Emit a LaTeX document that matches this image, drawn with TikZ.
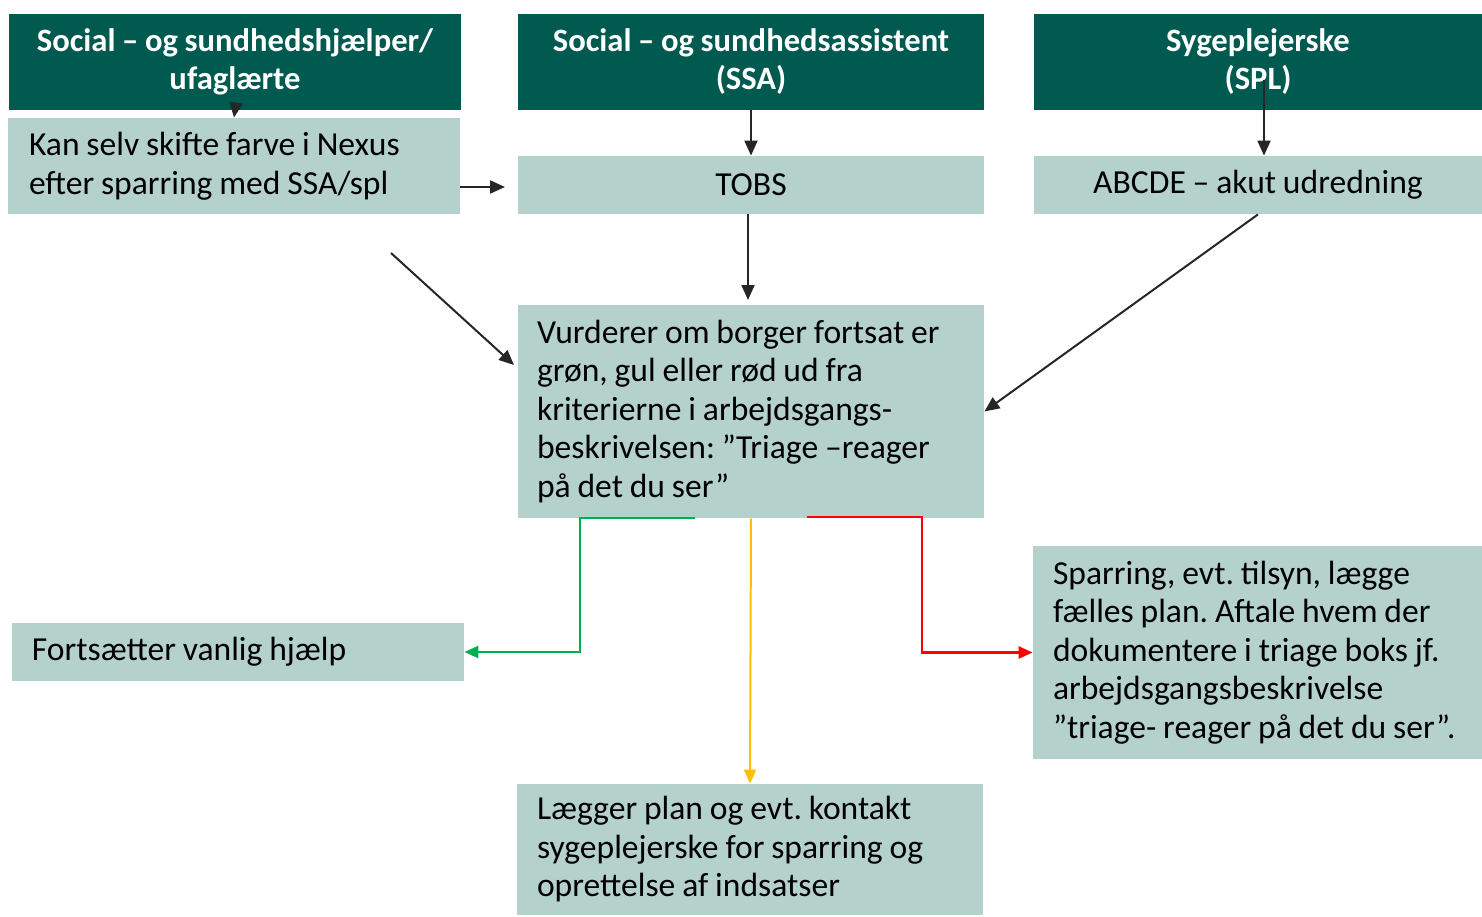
\documentclass[tikz,border=0pt]{standalone}
\usepackage{fontspec}
\setmainfont{Carlito}[WordSpace=0.9]
\frenchspacing
\usetikzlibrary{arrows.meta}
\definecolor{dk}{HTML}{005A4F}
\definecolor{lt}{HTML}{B5D1CB}
\definecolor{ar}{HTML}{262626}
\definecolor{gr}{HTML}{00B050}
\definecolor{yl}{HTML}{FFC000}
\definecolor{rd}{HTML}{FF0000}
\begin{document}
\begin{tikzpicture}[x=0.5pt,y=-0.5pt,
  hdr/.style={fill=dk,inner sep=0pt,text=white,font=\fontsize{16.3}{19}\selectfont\bfseries,align=center},
  lbox/.style={fill=lt,inner sep=0pt,font=\fontsize{16.8}{19.25}\selectfont\frenchspacing,align=flush left},
  cbox/.style={fill=lt,inner sep=0pt,font=\fontsize{16.8}{19.25}\selectfont,align=center},
  conn/.style={draw=ar,line width=1pt,-{Triangle[length=7.5pt,width=6.5pt]}},
  gconn/.style={draw=gr,line width=1.1pt,-{Triangle[length=7pt,width=6pt]}},
  yconn/.style={draw=yl,line width=1pt,-{Triangle[length=7pt,width=6pt]}},
  rconn/.style={draw=rd,line width=1.2pt,-{Triangle[length=7pt,width=6pt]}},
]
\useasboundingbox (0,0) rectangle (1482,916);
% headers
\node[hdr,minimum width=226pt,minimum height=48pt] (h1) at (235,62) {Social – og sundhedshjælper/\\ufaglærte};
\node[hdr,minimum width=233pt,minimum height=48pt] (h2) at (751,62) {Social – og sundhedsassistent\\(SSA)};
\node[hdr,minimum width=224pt,minimum height=48pt] (h3) at (1258,62) {Sygeplejerske\\(SPL)};
% second row
\node[lbox,minimum width=226pt,minimum height=48pt,text width=205pt] (b1) at (234,166) {Kan selv skifte farve i Nexus\\efter sparring med SSA/spl};
\node[cbox,minimum width=233pt,minimum height=29pt] (tobs) at (751,185) {TOBS};
\node[cbox,minimum width=224pt,minimum height=29pt] (abcde) at (1258,185) {ABCDE – akut udredning};
% middle
\node[lbox,minimum width=233pt,minimum height=106.5pt,text width=214pt] (v) at (751,411.5) {Vurderer om borger fortsat er\\grøn, gul eller rød ud fra\\kriterierne i arbejdsgangs-\\beskrivelsen: ”Triage –reager\\på det du ser”};
\node[lbox,minimum width=226pt,minimum height=29pt,text width=206pt] (fort) at (238,652) {Fortsætter vanlig hjælp};
\node[lbox,minimum width=224.5pt,minimum height=106.5pt,text width=204.5pt] (spar) at (1257.5,652.5) {Sparring, evt. tilsyn, lægge\\fælles plan. Aftale hvem der\\dokumentere i triage boks jf.\\arbejdsgangsbeskrivelse\\\mbox{”triage- reager på det du ser”.}};
\node[lbox,minimum width=233pt,minimum height=65.5pt,text width=213pt] (laeg) at (750,849.5) {Lægger plan og evt. kontakt\\sygeplejerske for sparring og\\oprettelse af indsatser};
% free ends
\coordinate (t1) at (505,187);
\coordinate (vtop) at (748,300);
\coordinate (s3) at (1264,80);
\coordinate (d1) at (391,253);
\coordinate (d2) at (514,365);
\coordinate (g1) at (695,518);
\coordinate (g2) at (580,518);
\coordinate (r1) at (807,517);
\coordinate (r2) at (922,517);
% connectors
\draw[conn] (h1.south) -- (b1.north);
\draw[conn] (b1.east |- t1) -- (t1);
\draw[conn] (h2.south) -- (tobs.north);
\draw[conn] (tobs.south -| vtop) -- (vtop);
\draw[conn] (s3) -- (s3 |- abcde.north);
\draw[conn] (abcde.south) -- (v.east);
\draw[conn] (d1) -- (d2);
\draw[gconn] (g1) -- (g2) |- (fort.east);
\draw[yconn] (v.south) -- (laeg.north);
\draw[rconn] (r1) -- (r2) |- (spar.west);
\end{tikzpicture}
\end{document}
